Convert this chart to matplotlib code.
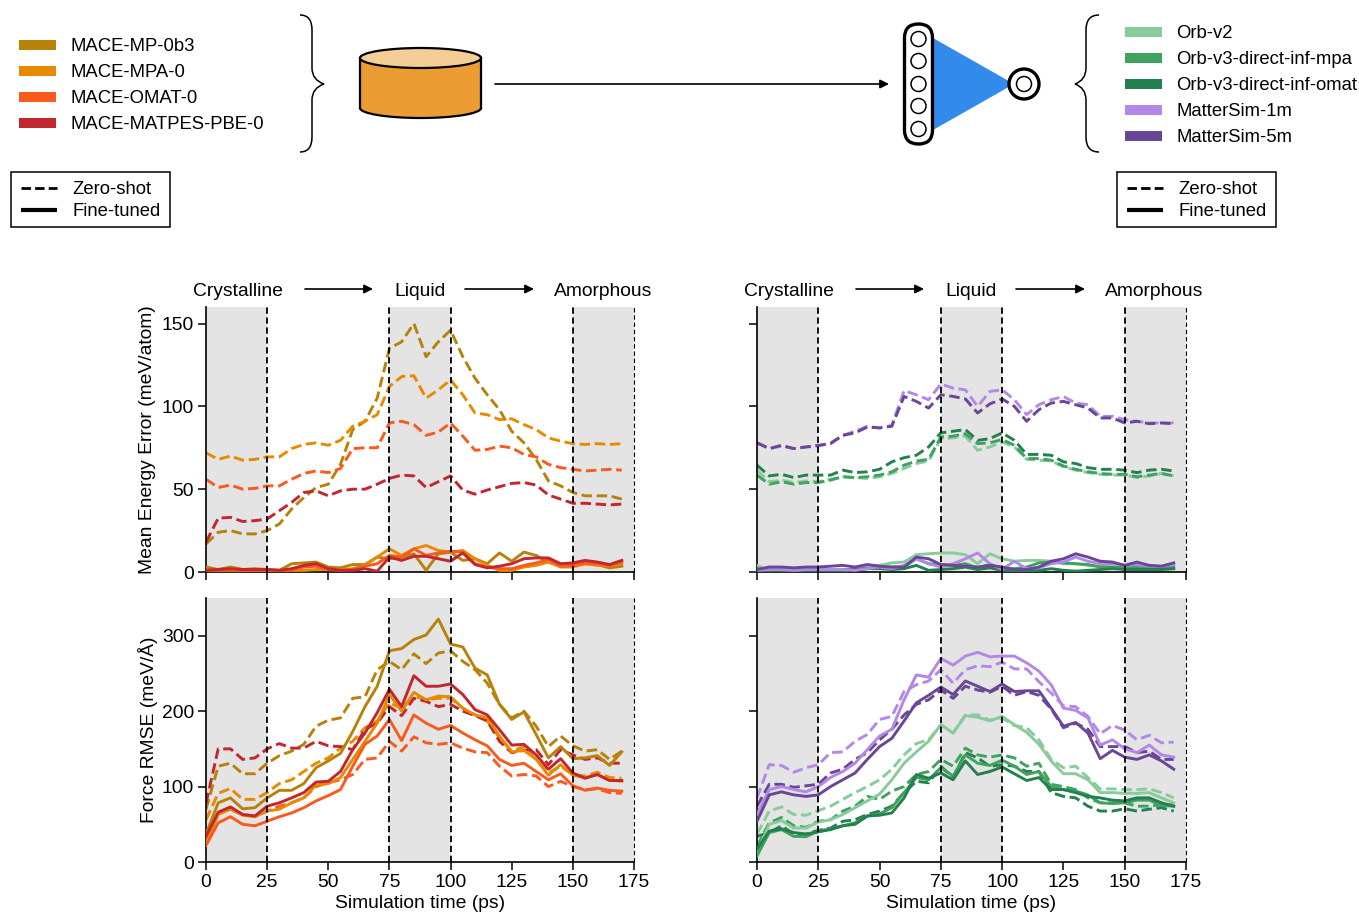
import matplotlib
matplotlib.use('Agg')
import matplotlib.pyplot as plt
from matplotlib.patches import Rectangle, Circle, Ellipse, Polygon, FancyBboxPatch, PathPatch
from matplotlib.path import Path

plt.rcParams['font.family'] = ['Liberation Sans', 'DejaVu Sans']

W, H = 1359, 913
FS = 13.9
FS_LEG = 13.35

time_ps = list(range(0, 175, 5))

# --- energy error, MACE ---
e_mp_zero = [17,24,25,23,23,25,29,38,45,51,53,65,86,91,105,135,139,150,130,139,146,130,117,107,98,85,78,68,55,52,48,46,46,46,44]
e_mpa_zero = [72,68,70,67.5,68,69.5,69.5,74.5,77,78,76.5,79.5,88,91,95,112,118,118.5,105,110,116,107,96,95,92,92.5,89,86,81,79,77.5,77,77.5,77,77.5]
e_omat_zero = [56,51,52.5,50,50.5,52,52,56,59.5,61,60,62.5,74.5,75,75,90,91,89,82.5,84.5,90,82,73.5,74,76,75,71,69.5,65,63,62,61,61.5,62,61.5]
e_matpes_zero = [18,32.5,33,30.5,31,32,37,42,48,49,46,49,50,50,53,56.5,58.5,58,51,54.5,58,49.5,47,49.5,51.5,53.5,54,52.5,46.5,44,41.5,41.5,41,40.5,41]
e_mp_fine = [3,1.5,3,1.5,2,1.5,1,5,5.5,6,3,2.5,4.5,4.5,9,8,9,11,1,11,12,7,8,5,11.5,6.5,12,10,6,4,4,5,4.5,2.5,3.5]
e_mpa_fine = [1,1,1,1,1,1,1,1,1,1.5,1.5,1.5,2,4,9,14,10,14,16,13,12,13,8,4,1,1,3,4,6,3,3,5,4,4,5]
e_omat_fine = [1,1.5,1.5,1,1,1,1,1.5,3,3.5,1.5,1,1.5,3.5,5,10,9,14,10,11.5,12.5,12,5,3,2,2,4,5.5,7.5,3.5,4,5.5,5,4,6]
e_matpes_fine = [1,1.5,2,1.5,1.5,1.5,1,2,4,5,2,1,1,2,0.5,9,7,9.5,9.5,8,6.5,11.5,4.5,2.5,3.5,5,8,8.5,8.5,5,5.5,7,6,4.5,7]

# --- force rmse, MACE ---
f_mp_fine = [37,78.5,85,70.5,72,85,95,95,104,125,134,144,173,206,233,280,283,295,301,322,289,285,257,248,209,189,199,169,138,153,137,138,141,128,146]
f_mp_zero = [70,127,131,117,117,131,141,147,156,180,188,191,217,219,255,266,255,276,263,277,280,266,255,237,209,191,200,180,153,167,154,147,149,136,147]
f_mpa_fine = [26,63,70,62,60,67.5,70,78.5,85,102,104,112,136,160,184,222,200,225,215,220,219,204,195,191,167,146,148,136,115,129,115,112,116,108.5,107]
f_mpa_zero = [56,91,97.5,83,83,92,104,109,120,131,138,151,160,178,187,211,204,220,215,217,217,204,195,187,164.5,147,153,136,118,127,116,114,119,112,111]
f_omat_fine = [22,52,60,50,48,54,60,65,72,81,88,96,127,156,167,189,161,195,184,176,181,171,162,154,136,128,131,120,109,117,101,95,98,95,94]
f_omat_zero = [28,65,70,63,61,67.5,74,78.5,85,100,105,109,116,136,138,160,147,166,158,156,158,151,146,145,127,114,116,114,100,107,100,96,97,92,91]
f_matpes_fine = [34,66,73,63,61,74,78.5,85,92,106,107,120,149,171,198,229,206,247,233,233,236,222,202,195,175.5,155,156,142,123,137,118,111,116,108,108]
f_matpes_zero = [78,150,150,136,138,150,157,151,151,160,154,153,149,176,184,206,194,217,213,206,209,200,194,187,160,145,148,149,129,149,142,136,138,131,131]

# --- energy error, Orb / MatterSim ---
e_v2_zero = [61.5,54.5,55.5,54,55,54.5,56,57.5,57,56.5,57.5,59.5,62.5,65.5,67,80.5,81,82,73.5,75.5,78.5,75.5,68,67.5,67,63.5,61.5,60,59,58.5,58.5,57,58,59.5,58]
e_mpa3_zero = [58.5,53,54.5,53,54,54,55.5,57.5,57,57.5,58.5,60.5,64.5,67,68,81.5,82,83.5,77.5,78,80,76.5,68.5,68.5,67.5,64,62,60.5,59.5,59,59,57.5,58.5,59.5,58]
e_omat3_zero = [64.5,58,59,57,58.5,58.5,58.5,61.5,60,60.5,62,66.5,69,70.5,75.5,84,85,86,79.5,80.5,84,79.5,71,71,70.5,66.5,65.5,63,62,62,61.5,60,61.5,62,61]
e_ms1_zero = [78,74.5,76,74.5,75.5,76,78,82.5,85,88,87,88.5,109.5,107,104,113.5,111,110,100,109,110,104,95,101,104,106,102,101,94,94,92,91,90,90,90]
e_ms5_zero = [78,74.5,76.5,74.5,75.5,76.5,77.5,82.5,84,87.5,87,88,106,103,99,107,106,104.5,96,101.5,104.5,100,91,98,102,103,101,99,93,93,90,91,89.5,90,89.5]
e_v2_fine = [4,1,1,1,1,1,1,1,2,3,4,5.5,6,10.5,11,11.5,11.5,10.5,5,11,8,6.5,7,7,6.5,5,5,4,3.5,3,2.5,2,2,1.5,2]
e_mpa3_fine = [2,1,1,1,1,1,1,1.5,1.5,2,3,3,3,8,5,4.5,4,5,2.5,4.5,2.5,2,3,5.5,6,5.5,5,4.5,3,3,3,3,3,2.5,3]
e_omat3_fine = [1,1,0.5,0.5,0.5,0.5,0.5,1,1.5,2,2,1.5,2,4,1,1.5,2,3,1.5,2.5,1,0.5,0.5,1,2,1,0.5,1,1.5,2,1.5,1.5,1.5,1.5,2]
e_ms1_fine = [1,1.5,1.5,1,1.5,1.5,1.5,1.5,1,2,3,2,4,8,5,3,5,8,11.5,5,1.5,6.5,2,2.5,5,6,9,6.5,5,5,4,4.5,3.5,3.5,4.5]
e_ms5_fine = [1.5,3,3,2.5,3,3,3.5,4,3,4.5,3.5,3,3,9,8,4.5,4,3.5,3,4,3,1.5,1.5,3,6.5,8,11,9,6.5,6,4,6,4,3.5,5.5]

# --- force rmse, Orb / MatterSim ---
f_ms1_fine = [63,96,100,96,93,100,112,120,131,149,167,176,215,248,245,270,261,273,278,272,273,273,264,253,235,204,201,191,155,162,150,145,155,142,139]
f_ms1_zero = [85,129,128,119,125,129,145,146,160,169,189,193,226,235,240,255,237,255,260,259,265,256,256,239,224,207,206,193,170,181,175,162,168,158,159]
f_ms5_fine = [54,89,93,89,87,89,100,109,118,136,153,164,187,211,221,232,222,240,233,226,236,226,227,227,204,180,185,171,137,148,139,136,142,134,123]
f_ms5_zero = [74,103,103,99,101,103,118,123,136,145,162,176,195,209,215,228,217,233,228,225,233,221,226,221,203,178,184,176,153,153,153,145,147,136,136]
f_v2_fine = [12,50,55,45,45,53,56,63,72,81,90,109,131,146,160,182,171,194,192,187,193,182,172,156,134,117,117,109,92,92,91,91,92,85,78.5]
f_v2_zero = [37,67.5,73,63,62,68,74,83,92,100,109,123,142,157,162,182,171,195,195,188,191,181,178,162,136,125,127,112,97,97,96,96,97,92,85]
f_mpa3_fine = [8,39,43,34,33.5,41,44,48,52,61,64,72,92,112,109,125,114,142,131,128,135,127,116,120,100,96,94,89,78.5,77.5,78.5,82,82,75,74]
f_mpa3_zero = [21,52,59,48,46,54,56,67.5,74,87,83,94,100,116,120,136,127,151,142,139,142,138,127,131,103,100,96,85,78.5,78.5,78.5,74,74,76,76]
f_omat3_fine = [17,41,44,39,37,40,43,48,50,61,62,65,85,116,111,118,109,134,116,120,126,117,108,112,96,96,92,87,85,82,81,85,85,78.5,74]
f_omat3_zero = [34,39,48,37,37,42,45,54,56,63,67.5,74,92,107,105,127,112,145,138,127,129,127,120,120,92,87,85,74,67.5,67.5,70.5,67.5,70,72,67.5]

mace_names = ['MACE-MP-0b3', 'MACE-MPA-0', 'MACE-OMAT-0', 'MACE-MATPES-PBE-0']
mace_colors = ['#b8820a', '#e88a00', '#f95a1e', '#c4262e']
other_names = ['Orb-v2', 'Orb-v3-direct-inf-mpa', 'Orb-v3-direct-inf-omat', 'MatterSim-1m', 'MatterSim-5m']
other_colors = ['#88cc9b', '#3fa35f', '#23804f', '#b488e8', '#6a4796']

x_ticks = [0, 25, 50, 75, 100, 125, 150, 175]
shaded = [(0, 25), (75, 100), (150, 175)]
vlines = [25, 75, 100, 150]
DASH = (0, (3.6, 1.6))

fig = plt.figure(figsize=(W / 100, H / 100), dpi=100)


def px_axes(x0, y0, x1, y1):
    return fig.add_axes([x0 / W, 1 - y1 / H, (x1 - x0) / W, (y1 - y0) / H])


def draw_panel(box, ylim, yticks, colors, zero, fine, xlabel=False, ylabels=True):
    ax = px_axes(*box)
    for a, b in shaded:
        ax.axvspan(a, b, color='#e4e4e4', lw=0, zorder=0)
    for v in vlines:
        ax.axvline(v, color='black', lw=1.3, ls=(0, (3.5, 2)), zorder=4)
    ax.axvline(175, color='black', lw=0.8, ls=(0, (4, 2.5)), zorder=4, clip_on=False)
    for c, z in zip(colors, zero):
        ax.plot(time_ps, z, color=c, lw=2.1, ls=DASH, zorder=2)
    for c, f in zip(colors, fine):
        ax.plot(time_ps, f, color=c, lw=2.1, zorder=3)
    ax.set_xlim(0, 175)
    ax.set_ylim(*ylim)
    ax.set_xticks(x_ticks)
    ax.set_yticks(yticks)
    ax.tick_params(labelsize=FS, length=6, width=1.1, pad=2.5)
    if not xlabel:
        ax.set_xticklabels([])
    if not ylabels:
        ax.set_yticklabels([])
    for s in ['top', 'right']:
        ax.spines[s].set_visible(False)
    for s in ['left', 'bottom']:
        ax.spines[s].set_linewidth(1.2)
    return ax


draw_panel((206, 307, 634, 572), (0, 160), [0, 50, 100, 150], mace_colors,
           [e_mp_zero, e_mpa_zero, e_omat_zero, e_matpes_zero],
           [e_mp_fine, e_mpa_fine, e_omat_fine, e_matpes_fine])
draw_panel((206, 598, 634, 862), (0, 350), [0, 100, 200, 300], mace_colors,
           [f_mp_zero, f_mpa_zero, f_omat_zero, f_matpes_zero],
           [f_mp_fine, f_mpa_fine, f_omat_fine, f_matpes_fine], xlabel=True)
draw_panel((757, 307, 1186, 572), (0, 160), [0, 50, 100, 150], other_colors,
           [e_v2_zero, e_mpa3_zero, e_omat3_zero, e_ms1_zero, e_ms5_zero],
           [e_v2_fine, e_mpa3_fine, e_omat3_fine, e_ms1_fine, e_ms5_fine], ylabels=False)
draw_panel((757, 598, 1186, 862), (0, 350), [0, 100, 200, 300], other_colors,
           [f_v2_zero, f_mpa3_zero, f_omat3_zero, f_ms1_zero, f_ms5_zero],
           [f_v2_fine, f_mpa3_fine, f_omat3_fine, f_ms1_fine, f_ms5_fine], xlabel=True, ylabels=False)

# overlay in pixel coords for the schematic bits
ov = fig.add_axes([0, 0, 1, 1], zorder=10)
ov.set_xlim(0, W)
ov.set_ylim(H, 0)
ov.axis('off')
ov.patch.set_alpha(0)


def arrow(x0, x1, y):
    ov.annotate('', xy=(x1, y), xytext=(x0, y),
                arrowprops=dict(arrowstyle='-|>', color='black', lw=1.2, mutation_scale=13,
                                shrinkA=0, shrinkB=0))


# axis labels
ov.text(148, 440, 'Mean Energy Error (meV/atom)', rotation=90, ha='center', va='center', fontsize=FS)
ov.text(148, 730, 'Force RMSE (meV/Å)', rotation=90, ha='center', va='center', fontsize=FS)
ov.text(420, 904, 'Simulation time (ps)', ha='center', va='center', fontsize=FS)
ov.text(971, 904, 'Simulation time (ps)', ha='center', va='center', fontsize=FS)

# phase headers
for off in [0, 551]:
    ov.text(238 + off, 291, 'Crystalline', ha='center', va='center', fontsize=FS)
    ov.text(420 + off, 291, 'Liquid', ha='center', va='center', fontsize=FS)
    ov.text(603 + off, 291, 'Amorphous', ha='center', va='center', fontsize=FS)
    arrow(305 + off, 373 + off, 289)
    arrow(465 + off, 534 + off, 289)

# colour legends
for i, (n, c) in enumerate(zip(mace_names, mace_colors)):
    y = 45 + i * 26
    ov.add_patch(Rectangle((19, y - 5), 37, 10, fc=c, ec='none'))
    ov.text(71, y + 1.5, n, ha='left', va='center', fontsize=FS_LEG)
for i, (n, c) in enumerate(zip(other_names, other_colors)):
    y = 32 + i * 26
    ov.add_patch(Rectangle((1125, y - 5), 37, 10, fc=c, ec='none'))
    ov.text(1176, y + 1.5, n, ha='left', va='center', fontsize=FS_LEG)

# style legends
for bx, lx, tx in [(11, 21, 72), (1117, 1127, 1178)]:
    ov.add_patch(Rectangle((bx, 172), 158.5, 55, fc='white', ec='black', lw=1.1))
    ov.plot([lx, lx + 36], [188, 188], color='black', lw=2.0, ls=(0, (3.4, 1.5)))
    ov.plot([lx, lx + 36], [210, 210], color='black', lw=3.0, solid_capstyle='butt')
    ov.text(tx, 189.5, 'Zero-shot', ha='left', va='center', fontsize=FS_LEG)
    ov.text(tx, 211.5, 'Fine-tuned', ha='left', va='center', fontsize=FS_LEG)


# braces
def brace(x_end, x_mid, x_tip):
    verts = [(x_end, 15), (x_mid, 15), (x_mid, 30), (x_mid, 68), (x_mid, 80), (x_tip, 84),
             (x_mid, 88), (x_mid, 100), (x_mid, 137), (x_mid, 152), (x_end, 152)]
    codes = [Path.MOVETO, Path.CURVE3, Path.CURVE3, Path.LINETO, Path.CURVE3, Path.CURVE3,
             Path.CURVE3, Path.CURVE3, Path.LINETO, Path.CURVE3, Path.CURVE3]
    ov.add_patch(PathPatch(Path(verts, codes), fc='none', ec='black', lw=1.1))


brace(300, 312, 324)
brace(1099, 1086, 1075)

# database cylinder
ov.add_patch(Ellipse((420.5, 108), 121, 20, fc='#eb9d33', ec='black', lw=1.6, zorder=1))
ov.add_patch(Rectangle((361, 58), 119, 50, fc='#eb9d33', ec='none', zorder=2))
ov.plot([360, 360], [58, 108], color='black', lw=1.6, zorder=3)
ov.plot([481, 481], [58, 108], color='black', lw=1.6, zorder=3)
ov.add_patch(Ellipse((420.5, 58), 121, 20, fc='#f5ce97', ec='black', lw=1.6, zorder=3))
arrow(495, 889, 84)

# network icon
ov.add_patch(Polygon([(933, 38), (933, 130), (1014, 84)], fc='#328bea', ec='none', zorder=2))
ov.add_patch(FancyBboxPatch((904.5, 24), 28, 120, boxstyle='round,pad=0,rounding_size=14',
                            fc='white', ec='black', lw=2.4, zorder=3))
for y in [39, 61, 84, 106, 129]:
    ov.add_patch(Circle((918.5, y), 7.5, fc='white', ec='black', lw=1.1, zorder=4))
ov.add_patch(Circle((1024, 84), 15, fc='white', ec='black', lw=2.4, zorder=4))
ov.add_patch(Circle((1024, 84), 7.5, fc='white', ec='black', lw=1.1, zorder=5))

fig.savefig('out.png', dpi=100)
